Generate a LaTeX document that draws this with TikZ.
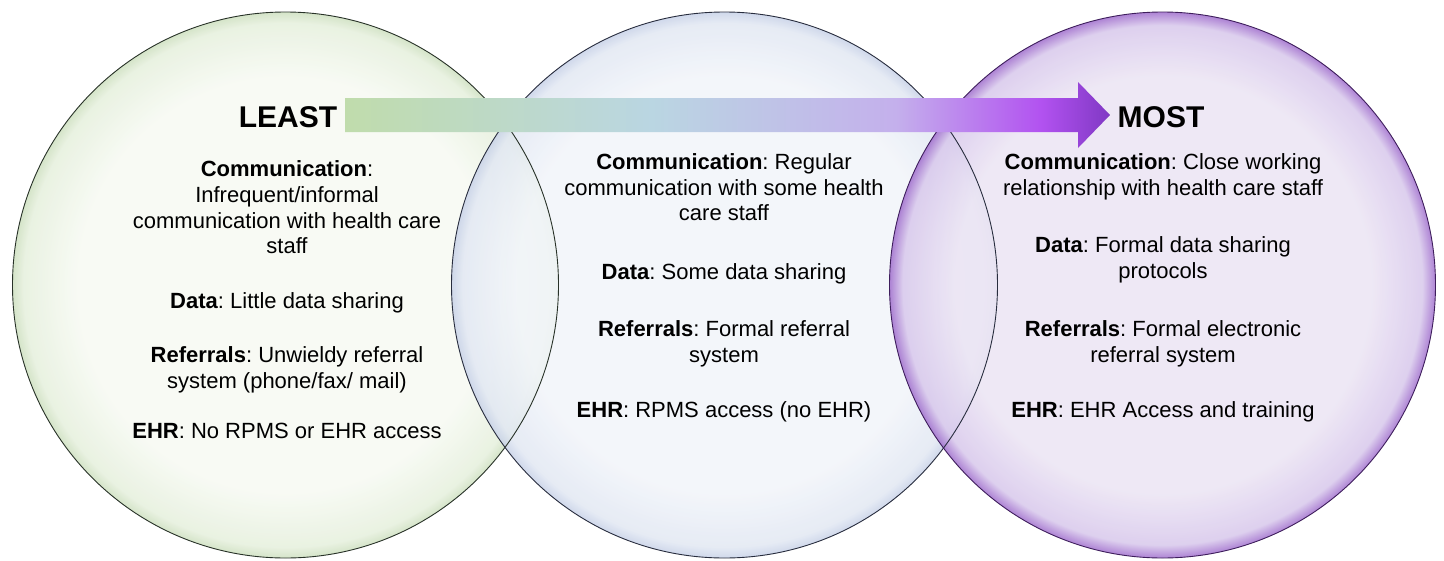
\documentclass[tikz,border=0pt]{standalone}
\usepackage{fontspec}
\setmainfont{Liberation Sans}
\frenchspacing
\definecolor{lcA}{RGB}{247,250,243}
\definecolor{lrA}{RGB}{230,240,221}
\definecolor{ldA}{RGB}{206,224,192}
\definecolor{lcB}{RGB}{242,245,250}
\definecolor{lrB}{RGB}{226,232,243}
\definecolor{ldB}{RGB}{200,210,232}
\definecolor{lcC}{RGB}{236,229,244}
\definecolor{lrC}{RGB}{216,200,236}
\definecolor{ldC}{RGB}{160,110,205}
\definecolor{bdA}{RGB}{40,50,40}
\definecolor{bdB}{RGB}{40,45,62}
\definecolor{bdC}{RGB}{62,30,92}
\definecolor{arG}{RGB}{192,220,172}
\definecolor{arB}{RGB}{186,214,226}
\definecolor{arL}{RGB}{196,176,236}
\definecolor{arP}{RGB}{178,82,240}
\definecolor{arD}{RGB}{128,56,196}
\pgfdeclareradialshading{shA}{\pgfpoint{0bp}{0bp}}{color(0bp)=(lcA); color(19bp)=(lcA); color(24bp)=(lrA); color(25bp)=(ldA); color(50bp)=(ldA)}
\pgfdeclareradialshading{shB}{\pgfpoint{0bp}{0bp}}{color(0bp)=(lcB); color(19bp)=(lcB); color(24bp)=(lrB); color(25bp)=(ldB); color(50bp)=(ldB)}
\pgfdeclareradialshading{shC}{\pgfpoint{0bp}{0bp}}{color(0bp)=(lcC); color(19bp)=(lcC); color(23.8bp)=(lrC); color(25bp)=(ldC); color(50bp)=(ldC)}
\pgfdeclarehorizontalshading{shArrow}{100bp}{color(0bp)=(arG); color(25bp)=(arG); color(45bp)=(arB); color(61bp)=(arL); color(70.5bp)=(arP); color(75bp)=(arD); color(100bp)=(arD)}
\tikzset{
  ring/.style={circle, minimum size=546pt, inner sep=0pt, fill opacity=0.85},
  rim/.style={line width=0.9pt},
  body/.style={anchor=base, inner sep=0pt, font=\fontsize{22}{26}\selectfont},
  title/.style={anchor=base, inner sep=0pt, font=\fontsize{30}{34}\selectfont\bfseries},
  arrowfill/.style={shading=shArrow}
}
\begin{document}
\begin{tikzpicture}[x=1pt,y=-1pt]
\useasboundingbox (0,0) rectangle (1444,560);
\fill[white] (0,0) rectangle (1444,560);
% circles
\node[ring, shading=shA] (cA) at (285.5,285) {};
\node[ring, shading=shB] (cB) at (724.5,285) {};
\node[ring, shading=shC] (cC) at (1162.5,285) {};
\draw[rim, draw=bdA] (cA.center) circle[radius=273];
\draw[rim, draw=bdB] (cB.center) circle[radius=273];
\draw[rim, draw=bdC] (cC.center) circle[radius=273];
% arrow
\coordinate (aS1) at (345,98);
\coordinate (aH1) at (1078,98);
\coordinate (aH2) at (1078,82);
\coordinate (aT) at (1110,115);
\coordinate (aH3) at (1078,148);
\coordinate (aH4) at (1078,132);
\coordinate (aS2) at (345,132);
\shade[arrowfill] (aS1) -- (aH1) -- (aH2) -- (aT) -- (aH3) -- (aH4) -- (aS2) -- cycle;
% titles
\node[title] (least) at (288,127) {LEAST};
\node[title] (most) at (1161,127) {MOST};
% left text
\node[body] (l1) at (287,176) {\textbf{Communication}:};
\node[body] (l2) at (287,202) {Infrequent/informal};
\node[body] (l3) at (287,228) {communication with health care};
\node[body] (l4) at (287,253) {staff};
\node[body] (l5) at (287,308) {\textbf{Data}: Little data sharing};
\node[body] (l6) at (287,362) {\textbf{Referrals}: Unwieldy referral};
\node[body] (l7) at (287,388) {system (phone/fax/ mail)};
\node[body] (l8) at (287,438) {\textbf{EHR}: No RPMS or EHR access};
% middle text
\node[body] (m1) at (724,169) {\textbf{Communication}: Regular};
\node[body] (m2) at (724,195) {communication with some health};
\node[body] (m3) at (724,220) {care staff};
\node[body] (m4) at (724,279) {\textbf{Data}: Some data sharing};
\node[body] (m5) at (724,336) {\textbf{Referrals}: Formal referral};
\node[body] (m6) at (724,362) {system};
\node[body] (m7) at (724,417) {\textbf{EHR}: RPMS access (no EHR)};
% right text
\node[body] (r1) at (1163,169) {\textbf{Communication}: Close working};
\node[body] (r2) at (1163,195) {relationship with health care staff};
\node[body] (r3) at (1163,252) {\textbf{Data}: Formal data sharing};
\node[body] (r4) at (1163,278) {protocols};
\node[body] (r5) at (1163,336) {\textbf{Referrals}: Formal electronic};
\node[body] (r6) at (1163,362) {referral system};
\node[body] (r7) at (1163,417) {\textbf{EHR}: EHR Access and training};
\end{tikzpicture}
\end{document}
